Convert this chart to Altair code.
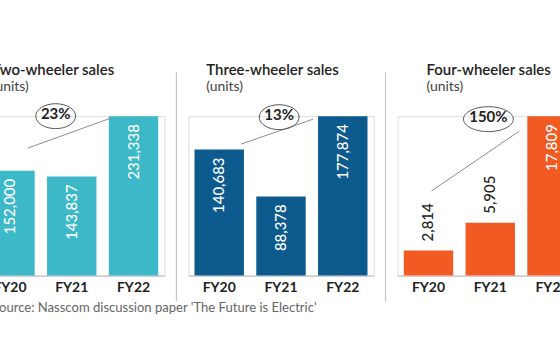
import altair as alt
import pandas as pd

FONT = "Lato"

categories = ["FY20", "FY21", "FY22"]
two_wheeler = [152000, 143837, 231338]
three_wheeler = [140683, 88378, 177874]
four_wheeler = [2814, 5905, 17809]
series = [two_wheeler, three_wheeler, four_wheeler]
panel_titles = ["Two-wheeler sales", "Three-wheeler sales", "Four-wheeler sales"]
panel_subtitle = "(units)"
growth_labels = ["23%", "13%", "150%"]
# value label inside the bar (white) or above it (dark)
inside_flags = [[True, True, True], [True, True, True], [False, False, True]]
# growth annotation (x in band units 0..3, y in units of each panel)
ann_x_start = [0.79, 0.855, 0.55]
ann_x_end = [2.13, 2.02, 1.97]
ann_y_start = [185070, 146746, 9461]
ann_y_end = [228446, 174539, 16139]
ann_loop_x = [1.24, 1.47, 1.47]
ann_loop_y = [231338, 176762, 17475]
source = "Source: Nasscom discussion paper 'The Future is Electric'"
colors = ["#3cb8c8", "#0d5a8f", "#f15a22"]
title_dx = [13, 18, 29]

W, H = 186, 160


def panel(i):
    values = series[i]
    df = pd.DataFrame({
        "fy": categories,
        "units": values,
        "inside": inside_flags[i],
        "label": [f"{v:,}" for v in values],
    })
    ymax = max(values)
    yscale = alt.Scale(domain=[0, ymax], nice=False, zero=True)
    xscale = alt.Scale(domain=categories, paddingInner=0.2, paddingOuter=0.1)
    x_axis = alt.X("fy:N", sort=categories, scale=xscale,
                   axis=alt.Axis(title=None, labelAngle=0, ticks=False,
                                 domainColor="#b8b8b8", labelFont=FONT,
                                 labelFontSize=14, labelFontWeight="bold",
                                 labelColor="#222222", labelPadding=5))
    x_plain = alt.X("fy:N", sort=categories, scale=xscale, axis=None)
    y = alt.Y("units:Q", scale=yscale, axis=None)

    bars = alt.Chart(df).mark_bar(color=colors[i]).encode(x=x_axis, y=y)
    inside = alt.Chart(df).transform_filter("datum.inside").mark_text(
        angle=270, align="right", baseline="middle", dx=-8, color="white",
        font=FONT, fontSize=15, fontWeight=500
    ).encode(x=x_plain, y=y, text="label:N")
    outside = alt.Chart(df).transform_filter("!datum.inside").mark_text(
        angle=270, align="left", baseline="middle", dx=9, color="#222222",
        font=FONT, fontSize=15, fontWeight=500
    ).encode(x=x_plain, y=y, text="label:N")

    ann = pd.DataFrame({
        "x1": [ann_x_start[i]], "x2": [ann_x_end[i]],
        "y1": [ann_y_start[i]], "y2": [ann_y_end[i]],
        "lx": [ann_loop_x[i]], "ly": [ann_loop_y[i]],
        "g": [growth_labels[i]],
    })
    ascale = alt.Scale(domain=[0, 3], nice=False, zero=False)
    line = alt.Chart(ann).mark_rule(color="#8c8c8c", strokeWidth=1).encode(
        x=alt.X("x1:Q", scale=ascale, axis=None), x2="x2:Q",
        y=alt.Y("y1:Q", scale=yscale, axis=None), y2="y2:Q")
    wpx = 10 * len(growth_labels[i]) + 10
    ry = 12.5 / (wpx / 2)
    ellipse_path = f"M -1 0 A 1 {ry:.3f} 0 1 0 1 0 A 1 {ry:.3f} 0 1 0 -1 0 Z"
    loop = alt.Chart(ann).mark_point(
        shape=ellipse_path, size=wpx * wpx, filled=False, stroke="#555555",
        strokeWidth=1, opacity=1
    ).encode(x=alt.X("lx:Q", scale=ascale, axis=None),
             y=alt.Y("ly:Q", scale=yscale, axis=None))
    gtext = alt.Chart(ann).mark_text(
        font=FONT, fontSize=15, fontWeight="bold", color="#222222", dy=-2
    ).encode(x=alt.X("lx:Q", scale=ascale, axis=None),
             y=alt.Y("ly:Q", scale=yscale, axis=None), text="g:N")

    # thin separator to the left of each panel
    divider = alt.Chart(pd.DataFrame({"d": [0]})).mark_rule(
        color="#bdbdbd", strokeWidth=1
    ).encode(x=alt.value(-12), y=alt.value(-44), y2=alt.value(186))

    layers = [divider, bars, inside, outside, line, loop, gtext]

    return alt.layer(*layers).resolve_scale(x="independent").properties(
        width=W, height=H,
        title=alt.TitleParams(
            text=panel_titles[i], subtitle=panel_subtitle, anchor="start",
            frame="group", dx=title_dx[i], offset=-22, font=FONT, fontSize=15,
            fontWeight=600, color="#222222", subtitleFont=FONT,
            subtitleFontSize=14, subtitleColor="#444444", subtitlePadding=2,
        ),
    )


chart = alt.hconcat(panel(0), panel(1), panel(2), spacing=24, bounds="flush").properties(
    title=alt.TitleParams(text=source, orient="bottom", anchor="start", dx=26,
                          offset=0, font=FONT, fontSize=13.1, fontWeight="normal",
                          color="#666666"),
    padding={"left": -34, "top": 62, "right": -24, "bottom": 10},
).configure_view(stroke=None).configure(font=FONT)

chart.save("out.html", embed_options={"renderer": "svg", "actions": False})
